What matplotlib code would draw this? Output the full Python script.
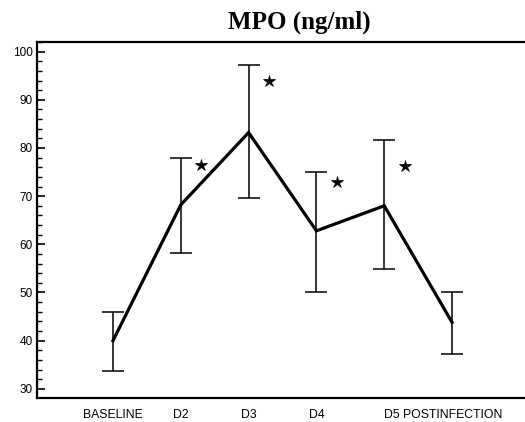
import matplotlib
matplotlib.use("Agg")
import matplotlib.pyplot as plt
from matplotlib.ticker import MultipleLocator

# valores
dias = ["BASELINE", "D2", "D3", "D4", "D5 POSTINFECTION"]
mpo = [40.0, 68.2, 83.2, 62.8, 68.0, 43.8]
sup = [46.0, 78.0, 97.3, 75.1, 81.6, 50.1]
inf = [33.7, 58.2, 69.7, 50.1, 54.8, 37.2]
estrelas = [None, 76.5, 93.9, 73.0, 76.3, None]

x = list(range(len(mpo)))
erro_inf = [m - i for m, i in zip(mpo, inf)]
erro_sup = [s - m for m, s in zip(mpo, sup)]

fig = plt.figure(figsize=(5.25, 4.22), dpi=100)
ax = fig.add_axes([0.0705, 0.0569, 0.9275, 0.8436])

ax.errorbar(x, mpo, yerr=[erro_inf, erro_sup], fmt="none", ecolor="black",
            elinewidth=1.1, capsize=8, capthick=1.1)
ax.plot(x, mpo, color="black", linewidth=2.3, solid_joinstyle="miter")

for xi, e in zip(x, estrelas):
    if e is not None:
        ax.plot(xi + 0.3, e, marker="*", color="black", markersize=9,
                markeredgewidth=0.5, linestyle="none")

ax.set_xlim(-1.12, 6.06)
ax.set_ylim(28.1, 102.0)

ax.yaxis.set_major_locator(MultipleLocator(10))
ax.yaxis.set_minor_locator(MultipleLocator(2))
ax.tick_params(axis="y", which="major", direction="in", length=6, width=1.2,
               labelsize=8.5, pad=3)
ax.tick_params(axis="y", which="minor", direction="in", length=3.5, width=1.0)
for lab in ax.get_yticklabels():
    lab.set_fontfamily("Liberation Sans")

ax.set_xticks(x[:len(dias)])
ax.set_xticklabels(dias, fontsize=8.8, fontfamily="Liberation Sans")
ax.tick_params(axis="x", length=0, pad=8)
ax.get_xticklabels()[-1].set_horizontalalignment("left")

ax.spines["right"].set_visible(False)
for s in ["left", "bottom", "top"]:
    ax.spines[s].set_linewidth(1.6)

fig.text(0.571, 0.933, "MPO (ng/ml)", ha="center", va="baseline",
         fontsize=18, fontweight="bold", fontfamily="Liberation Serif")

fig.savefig("out.png", dpi=100)
